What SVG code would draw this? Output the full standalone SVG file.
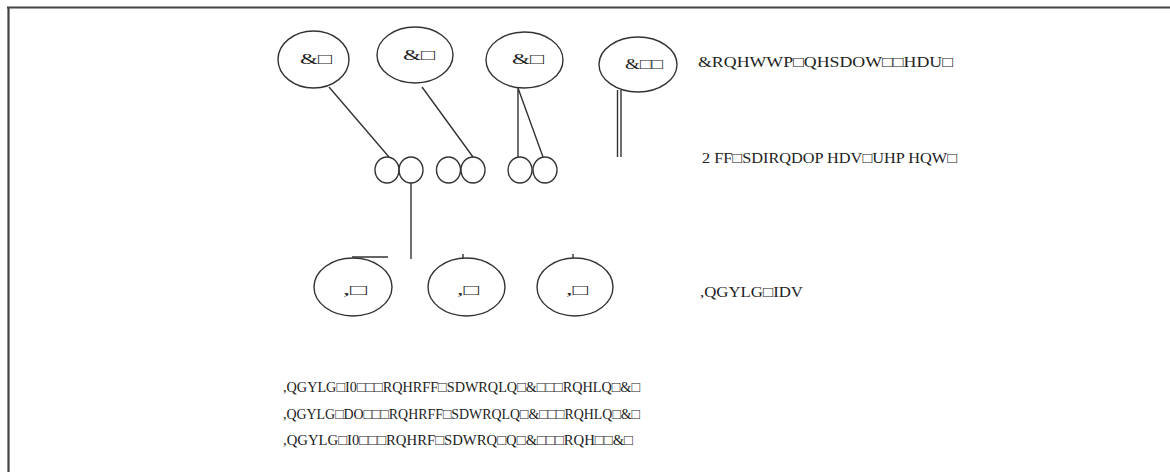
<svg xmlns="http://www.w3.org/2000/svg" width="1170" height="472" viewBox="0 0 1170 472">
<style>
.el{fill:none;stroke:#333;stroke-width:1.4}
.ln{fill:none;stroke:#333;stroke-width:1.4}
.t{font-family:"Liberation Serif","Times New Roman",serif;font-size:15px;fill:#222}
</style>
<rect width="1170" height="472" fill="#fff"/>
<path d="M7,7.5 H1170 M8.5,7 V472" fill="none" stroke="#444" stroke-width="2.2"/>
<g id="C1"><ellipse class="el" cx="313.5" cy="59.5" rx="35.5" ry="28.5"/><text class="t" x="300" y="64" textLength="32" lengthAdjust="spacingAndGlyphs">&amp;□</text></g>
<g id="C2"><ellipse class="el" cx="415" cy="55" rx="38" ry="28"/><text class="t" x="403" y="60" textLength="32" lengthAdjust="spacingAndGlyphs">&amp;□</text></g>
<g id="C3"><ellipse class="el" cx="524.5" cy="60" rx="38.5" ry="28"/><text class="t" x="512" y="64" textLength="32" lengthAdjust="spacingAndGlyphs">&amp;□</text></g>
<g id="C4"><ellipse class="el" cx="638" cy="64.5" rx="39" ry="27.5"/><text class="t" x="625" y="69" textLength="38" lengthAdjust="spacingAndGlyphs">&amp;□□</text></g>
<g id="O1"><ellipse class="el" cx="387" cy="170" rx="12" ry="13"/></g>
<g id="O2"><ellipse class="el" cx="411" cy="170" rx="12" ry="13"/></g>
<g id="O3"><ellipse class="el" cx="448.5" cy="170" rx="12" ry="13"/></g>
<g id="O4"><ellipse class="el" cx="473" cy="170" rx="12" ry="13"/></g>
<g id="O5"><ellipse class="el" cx="520" cy="170" rx="12" ry="13"/></g>
<g id="O6"><ellipse class="el" cx="545" cy="170" rx="12" ry="13"/></g>
<g id="I1"><ellipse class="el" cx="353" cy="287" rx="39" ry="29"/><text class="t" x="343" y="295" textLength="24" lengthAdjust="spacingAndGlyphs">,□</text></g>
<g id="I2"><ellipse class="el" cx="466.5" cy="287" rx="38.5" ry="29"/><text class="t" x="457" y="295" textLength="22" lengthAdjust="spacingAndGlyphs">,□</text></g>
<g id="I3"><ellipse class="el" cx="575" cy="287" rx="38" ry="29"/><text class="t" x="566" y="295" textLength="22" lengthAdjust="spacingAndGlyphs">,□</text></g>
<g id="connectors">
<path class="ln" d="M329,87 L389,157"/>
<path class="ln" d="M422,87 L473,157"/>
<path class="ln" d="M518,88 V157 M518,88 L543,157"/>
<path class="ln" d="M617.5,90 V157 M621,90 V157"/>
<path class="ln" d="M411,183 V259"/>
<path class="ln" d="M352,257 H388"/>
<path class="ln" d="M463,254 V258 M573,254 V258"/>
</g>
<g id="legend">
<text class="t" x="698" y="67" textLength="255" lengthAdjust="spacingAndGlyphs">&amp;RQHWWP□QHSDOW□□HDU□</text>
<text class="t" x="702" y="163" textLength="255" lengthAdjust="spacingAndGlyphs">2 FF□SDIRQDOP HDV□UHP HQW□</text>
<text class="t" x="700" y="297" textLength="103" lengthAdjust="spacingAndGlyphs">,QGYLG□IDV</text>
</g>
<g id="notes">
<text class="t" x="283" y="392" textLength="357" lengthAdjust="spacingAndGlyphs">,QGYLG□I0□□□RQHRFF□SDWRQLQ□&amp;□□□RQHLQ□&amp;□</text>
<text class="t" x="283" y="419" textLength="357" lengthAdjust="spacingAndGlyphs">,QGYLG□DO□□□RQHRFF□SDWRQLQ□&amp;□□□RQHLQ□&amp;□</text>
<text class="t" x="283" y="445" textLength="350" lengthAdjust="spacingAndGlyphs">,QGYLG□I0□□□RQHRF□SDWRQ□Q□&amp;□□□RQH□□&amp;□</text>
</g>
</svg>
